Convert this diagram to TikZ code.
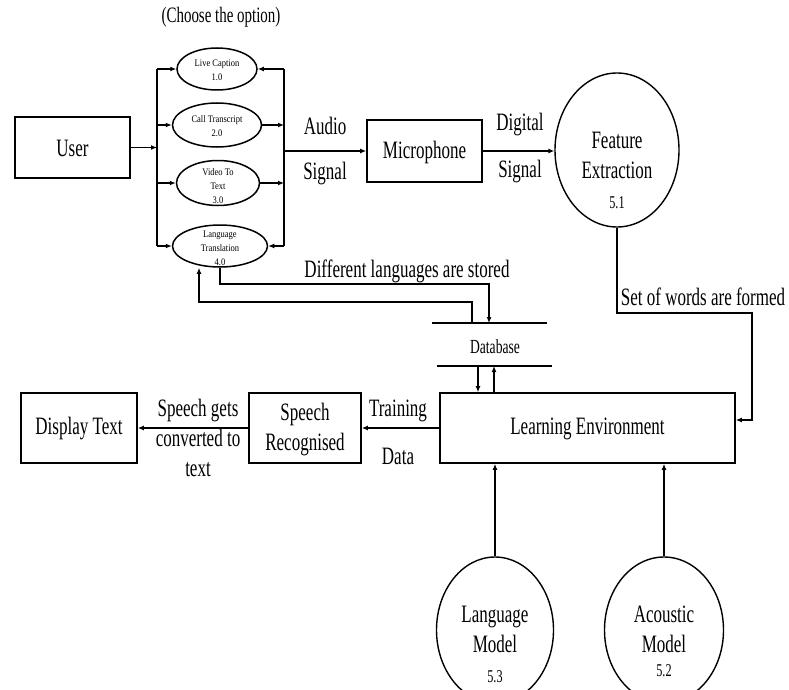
\documentclass[tikz,border=0pt]{standalone}
\usepackage{fontspec}
\setmainfont{Liberation Serif}[FakeStretch=0.68]
\newfontfamily\optfont{Liberation Serif}[FakeStretch=0.85]
\usetikzlibrary{arrows.meta,shapes.geometric}
\begin{document}
\begin{tikzpicture}[x=1pt,y=-1pt,
  box/.style={draw, line width=1.6pt, inner sep=0pt},
  lbl/.style={font=\fontsize{25}{30}\selectfont, align=center, inner sep=0pt},
  num/.style={font=\fontsize{18}{20}\selectfont, inner sep=0pt},
  opt/.style={draw, ellipse, line width=1.5pt, inner sep=0pt},
  opttxt/.style={align=center, inner sep=0pt, font=\optfont\fontsize{10}{14}\selectfont},
  circ/.style={draw, ellipse, line width=1.4pt, inner sep=0pt},
  arr/.style={-{Latex[length=6pt,width=5pt]}, line width=1.3pt},
  ln/.style={line width=1.3pt}]
\useasboundingbox (0,0) rectangle (789,690);
\clip (0,0) rectangle (789,690);

% title
\node[lbl, font=\fontsize{22}{26}\selectfont] (title) at (221,17) {(Choose the option)};

% boxes
\node[box, minimum width=115pt, minimum height=61pt] (user) at (72.5,147.5) {};
\node[lbl] (usertxt) at (72.5,148) {User};
\node[box, minimum width=115pt, minimum height=62pt] (mic) at (424.5,151) {};
\node[lbl] (mictxt) at (424.5,152) {Microphone};
\node[box, minimum width=295pt, minimum height=70pt] (le) at (587.5,428) {};
\node[lbl] (letxt) at (587.5,429) {Learning Environment};
\node[box, minimum width=112pt, minimum height=70pt] (sr) at (305,428) {};
\node[lbl] (srtxt) at (305,430) {Speech\\Recognised};
\node[box, minimum width=116pt, minimum height=70pt] (dt) at (79,428) {};
\node[lbl] (dttxt) at (79,429) {Display Text};

% option ellipses
\node[opt, minimum width=80pt, minimum height=42pt] (lc) at (217,69) {};
\node[opttxt] (lctxt) at (217,70) {Live Caption\\1.0};
\node[opt, minimum width=89pt, minimum height=44pt] (ct) at (217,125) {};
\node[opttxt] (cttxt) at (217,126) {Call Transcript\\2.0};
\node[opt, minimum width=83pt, minimum height=45pt] (vt) at (218,183) {};
\node[opttxt] (vttxt) at (218,186) {Video To\\Text\\3.0};
\node[opt, minimum width=95pt, minimum height=42pt] (lt) at (220,246) {};
\node[opttxt] (lttxt) at (220,248) {Language\\Translation\\4.0};

% big circles
\node[circ, minimum width=124pt, minimum height=154pt] (fe) at (617,150) {};
\node[lbl] (fetxt) at (617,155) {Feature\\Extraction};
\node[num] (fenum) at (617,203) {5.1};
\node[circ, minimum width=117pt, minimum height=146pt] (lm) at (495,630) {};
\node[lbl] (lmtxt) at (495,629) {Language\\Model};
\node[num] (lmnum) at (495,677) {5.3};
\node[circ, minimum width=119pt, minimum height=146pt] (am) at (664,630) {};
\node[lbl] (amtxt) at (664,629) {Acoustic\\Model};
\node[num] (amnum) at (664,671) {5.2};

% database
\coordinate (dbTL) at (432,323);
\coordinate (dbTR) at (547,323);
\coordinate (dbBL) at (437,366);
\coordinate (dbBR) at (552,366);
\draw[line width=1.6pt] (dbTL) -- (dbTR);
\draw[line width=1.6pt] (dbBL) -- (dbBR);
\node[lbl, font=\fontsize{20}{24}\selectfont] (db) at (495,347) {Database};

% buses
\coordinate (lbT) at (157,69);
\coordinate (lbB) at (157,246);
\coordinate (rbT) at (284,69);
\coordinate (rbB) at (284,246);
\draw[ln] (lbT) -- (lbB);
\draw[ln] (rbT) -- (rbB);

% user to bus
\draw[arr] (user.east) -- (user.east -| lbT);
% bus to options
\draw[arr] (lbT) -- (lc.west);
\draw[arr] (ct.west -| lbT) -- (ct.west);
\draw[arr] (vt.west -| lbT) -- (vt.west);
\draw[arr] (lbB) -- (lt.west);
% options to right bus
\draw[arr] (rbT) -- (lc.east);
\draw[arr] (ct.east) -- (ct.east -| rbT);
\draw[arr] (vt.east) -- (vt.east -| rbT);
\draw[arr] (rbB) -- (lt.east);
% right bus to microphone
\draw[arr] (mic.west -| rbT) -- (mic.west);
\node[lbl] (audio) at (325,126) {Audio};
\node[lbl] (sig1) at (325,174) {Signal};
% microphone to feature extraction
\draw[arr] (mic.east) -- (mic.east -| fe.west);
\node[lbl] (digital) at (520,125) {Digital};
\node[lbl] (sig2) at (520,172) {Signal};

% feature extraction to learning environment
\coordinate (fe1) at (617,313);
\coordinate (fe2) at (752,313);
\coordinate (fe3) at (752,420);
\draw[arr] (fe.south) -- (fe1) -- (fe2) -- (fe3) -- (fe3 -| le.east);
\node[lbl] (setw) at (703,297) {Set of words are formed};

% language translation <-> database
\coordinate (l1) at (220,284);
\coordinate (l2) at (489,284);
\draw[arr] (lt.south) -- (l1) -- (l2) -- (l2 |- dbTL);
\coordinate (r1) at (472,302);
\coordinate (r2) at (199,302);
\draw[arr] (r1 |- dbTL) -- (r1) -- (r2) -- (r2 |- lt.south);
\node[lbl] (difl) at (407,271) {Different languages are stored};

% database <-> learning environment
\coordinate (d1) at (478,366);
\coordinate (d2) at (494,366);
\draw[arr] (d1) -- (d1 |- le.north);
\draw[arr] (d2 |- le.north) -- (d2);

% learning env -> speech recognised -> display text
\draw[arr] (le.west) -- (sr.east);
\node[lbl] (train) at (398,411) {Training};
\node[lbl] (data) at (398,456) {Data};
\draw[arr] (sr.west) -- (dt.east);
\node[lbl] (conv) at (198,438) {Speech gets\\converted to\\text};

% models to learning environment
\draw[arr] (lm.north) -- (lm.north |- le.south);
\draw[arr] (am.north) -- (am.north |- le.south);
\end{tikzpicture}
\end{document}
